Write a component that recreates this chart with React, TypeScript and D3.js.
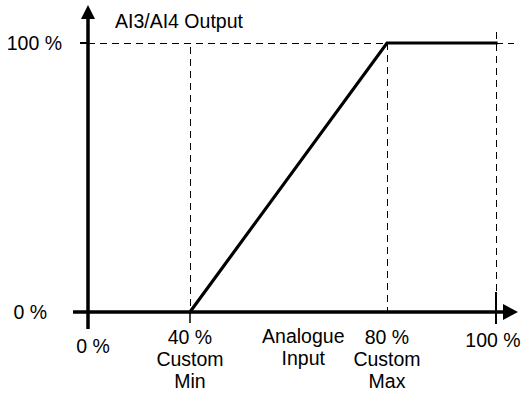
import React from "react";
import * as d3 from "d3";

// input (x) in %, output (y) in %
const curveInput = [40, 80, 100];
const curveOutput = [0, 100, 100];

const xTicks = [0, 40, 80, 100];
const xTickLabels = [["0 %"], ["40 %", "Custom", "Min"], ["80 %", "Custom", "Max"], ["100 %"]];
const yTicks = [0, 100];
const yTickLabels = ["0 %", "100 %"];
const xTitle = ["Analogue", "Input"];
const yTitle = "AI3/AI4 Output";

const W = 522;
const H = 394;
const font = "'Liberation Sans', Arial, sans-serif";

const App = () => {
  // the sketch isn't to scale, so piecewise domain
  const x = d3.scaleLinear().domain([0, 40, 80, 100]).range([88, 190, 387, 496]);
  const y = d3.scaleLinear().domain([0, 100]).range([312, 43]);

  const pts: [number, number][] = curveInput.map((v, i) => [v, curveOutput[i]]);
  const line = d3
    .line<[number, number]>()
    .x((d) => x(d[0]))
    .y((d) => y(d[1]));

  const x0 = x(0);
  const y0 = y(0);
  const y100 = y(100);
  const dash = { stroke: "#000", strokeWidth: 1, strokeDasharray: "7,5", shapeRendering: "crispEdges" as const };

  return (
    <svg
      width={W}
      height={H}
      style={{ position: "absolute", left: 0, top: 0, background: "#fff" }}
      fontFamily={font}
      fontSize={19.5}
    >
      {/* dashed guides */}
      <line x1={x0} x2={W - 8} y1={y100} y2={y100} {...dash} />
      <line x1={x(40)} x2={x(40)} y1={y100 + 4} y2={y0} {...dash} />
      <line x1={x(80)} x2={x(80)} y1={y100} y2={y0} {...dash} />
      <line x1={x(100)} x2={x(100)} y1={32} y2={y0 - 20} {...dash} />

      {/* ticks */}
      <line x1={x0 - 8} x2={x0} y1={y100} y2={y100} stroke="#000" strokeWidth={2} />
      <line x1={x(40)} x2={x(40)} y1={y0} y2={y0 + 11} stroke="#000" strokeWidth={1.5} />
      <line x1={x(100)} x2={x(100)} y1={y0 - 20} y2={y0 + 12} stroke="#000" strokeWidth={2} />

      {/* axes */}
      <line x1={x0} x2={x0} y1={17} y2={y0 + 17} stroke="#000" strokeWidth={3.5} />
      <path d={`M${x0},5 L${x0 - 7},19 L${x0 + 7},19 Z`} fill="#000" />
      <line x1={x0 - 15} x2={505} y1={y0} y2={y0} stroke="#000" strokeWidth={3.5} />
      <path d={`M518,${y0} L503,${y0 - 8} L503,${y0 + 8} Z`} fill="#000" />

      {/* transfer curve */}
      <path d={line(pts) || ""} fill="none" stroke="#000" strokeWidth={3.2} strokeLinejoin="miter" strokeLinecap="square" />

      {/* y labels */}
      {yTicks.map((t, i) => (
        <text key={t} x={i === 0 ? 47 : 62} y={y(t) + 7} textAnchor="end">
          {yTickLabels[i]}
        </text>
      ))}
      <text x={115} y={28}>{yTitle}</text>

      {/* x labels */}
      {xTicks.map((t, i) => {
        const dx = i === 0 ? 5 : i === 3 ? -3 : 0;
        const base = i === 0 ? 353 : i === 3 ? 347 : 344;
        return (
          <text key={t} x={x(t) + dx} y={base} textAnchor="middle">
            {xTickLabels[i].map((s, j) => (
              <tspan key={j} x={x(t) + dx} y={base + j * 22}>
                {s}
              </tspan>
            ))}
          </text>
        );
      })}
      <text x={x(63)} y={343} textAnchor="middle">
        {xTitle.map((s, j) => (
          <tspan key={j} x={x(63)} y={343 + j * 22}>
            {s}
          </tspan>
        ))}
      </text>
    </svg>
  );
};

export default App;
